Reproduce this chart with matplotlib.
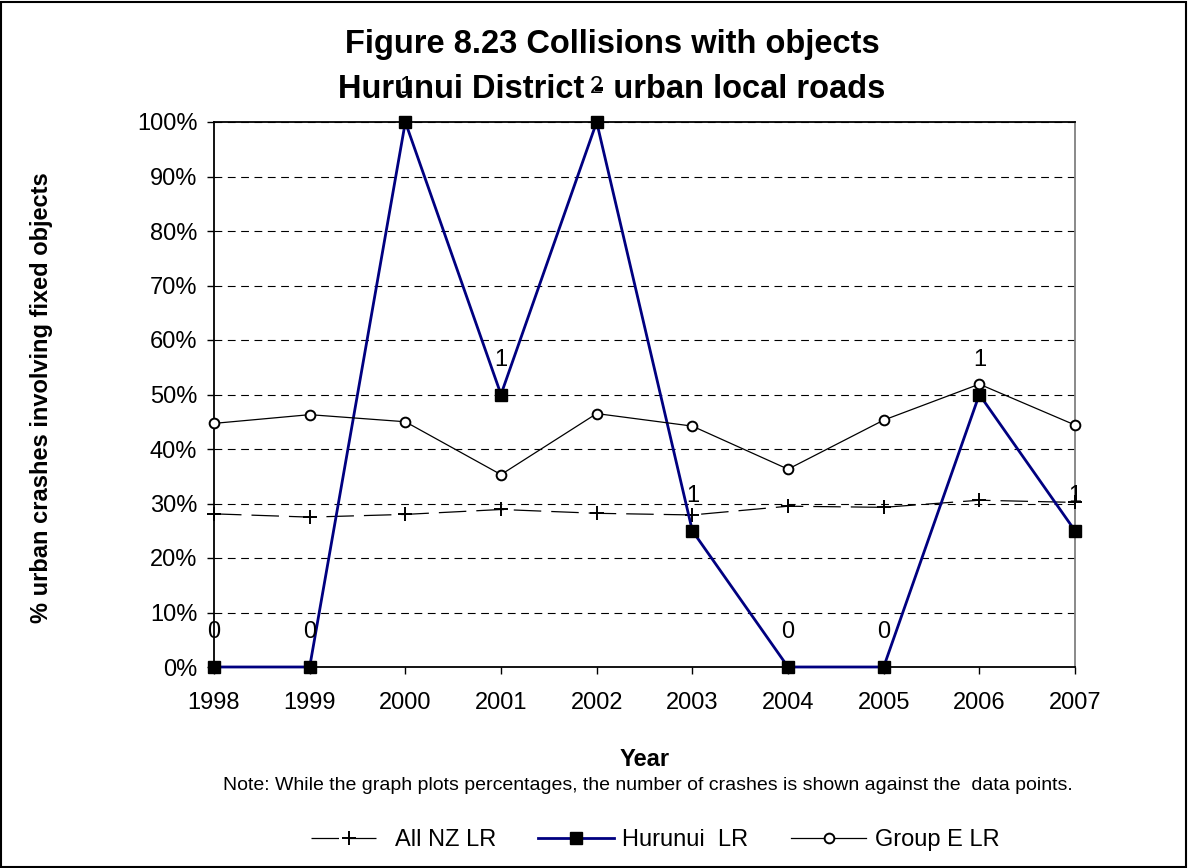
import matplotlib
matplotlib.use("Agg")
import matplotlib.pyplot as plt
from matplotlib.patches import Rectangle
from matplotlib.lines import Line2D

plt.rcParams['font.family'] = ['Liberation Sans', 'DejaVu Sans']

years = [1998, 1999, 2000, 2001, 2002, 2003, 2004, 2005, 2006, 2007]
all_nz = [28.1, 27.5, 28.0, 28.9, 28.2, 27.9, 29.5, 29.3, 30.6, 30.2]
hurunui = [0, 0, 100, 50, 100, 25, 0, 0, 50, 25]
group_e = [44.7, 46.3, 45.0, 35.3, 46.5, 44.2, 36.3, 45.3, 51.9, 44.4]
counts = [0, 0, 1, 1, 2, 1, 0, 0, 1, 1]
series_names = ['All NZ LR', 'Hurunui  LR', 'Group E LR']

W, H = 1188, 868
fig = plt.figure(figsize=(W / 100, H / 100), dpi=100)
L, R, T, B = 214, 1075, 122, 667
ax = fig.add_axes([L / W, 1 - B / H, (R - L) / W, (B - T) / H])

nz_style = dict(color='black', lw=0.9, dashes=(22, 8), marker='+', ms=10, mew=1.4)
hu_style = dict(color='#000080', lw=2, marker='s', ms=8, mfc='black', mec='black')
ge_style = dict(color='black', lw=0.9, marker='o', ms=7, mfc='white', mec='black', mew=1.4)

ax.plot(years, all_nz, zorder=3, clip_on=False, **nz_style)
ax.plot(years, hurunui, zorder=4, clip_on=False, **hu_style)
ax.plot(years, group_e, zorder=5, clip_on=False, **ge_style)

for x, y, c in zip(years, hurunui, counts):
    ax.annotate(str(c), (x, y), xytext=(0, 25), textcoords='offset points',
                ha='center', va='center', fontsize=17, annotation_clip=False, zorder=6)

ax.set_xlim(1998, 2007)
ax.set_ylim(0, 100)
ax.set_xticks(years)
ax.set_xticklabels([str(y) for y in years])
ax.set_yticks(range(0, 101, 10))
ax.set_yticklabels([f"{v}%" for v in range(0, 101, 10)])
ax.tick_params(axis='both', labelsize=17, direction='out', length=5, width=1)
ax.tick_params(axis='x', pad=13)
ax.tick_params(axis='y', pad=7)
for v in range(10, 101, 10):
    ax.axhline(v, color='black', lw=0.8, dashes=(7, 5), zorder=1)
for s in ['top', 'left', 'bottom']:
    ax.spines[s].set_color('black')
    ax.spines[s].set_linewidth(1.3)
ax.spines['right'].set_color('#808080')
ax.spines['right'].set_linewidth(1.3)

fig.text(42 / W, 1 - 398 / H, '% urban crashes involving fixed objects', rotation=90,
         ha='center', va='center', fontsize=17, fontweight='bold')
fig.text(645 / W, 1 - 760 / H, 'Year', ha='center', va='center', fontsize=17, fontweight='bold')
fig.text(648 / W, 1 - 786 / H,
         'Note: While the graph plots percentages, the number of crashes is shown against the  data points.',
         ha='center', va='center', fontsize=14)
fig.text(612 / W, 1 - 44 / H, 'Figure 8.23 Collisions with objects',
         ha='center', va='center', fontsize=23.5, fontweight='bold')
fig.text(612 / W, 1 - 89 / H, 'Hurunui District - urban local roads',
         ha='center', va='center', fontsize=23.5, fontweight='bold')

handles = [Line2D([], [], **nz_style), Line2D([], [], **hu_style), Line2D([], [], **ge_style)]
fig.legend(handles, series_names, loc='center',
           bbox_to_anchor=(655 / W, 1 - 840 / H), ncol=3, frameon=False, fontsize=17,
           handlelength=3.2, columnspacing=1.8, handletextpad=0.35, borderpad=0)

fig.patches.append(Rectangle((0.001, 0.001), 0.997, 0.997, transform=fig.transFigure,
                             fill=False, edgecolor='black', lw=1.5))

fig.savefig('out.png', dpi=100)
